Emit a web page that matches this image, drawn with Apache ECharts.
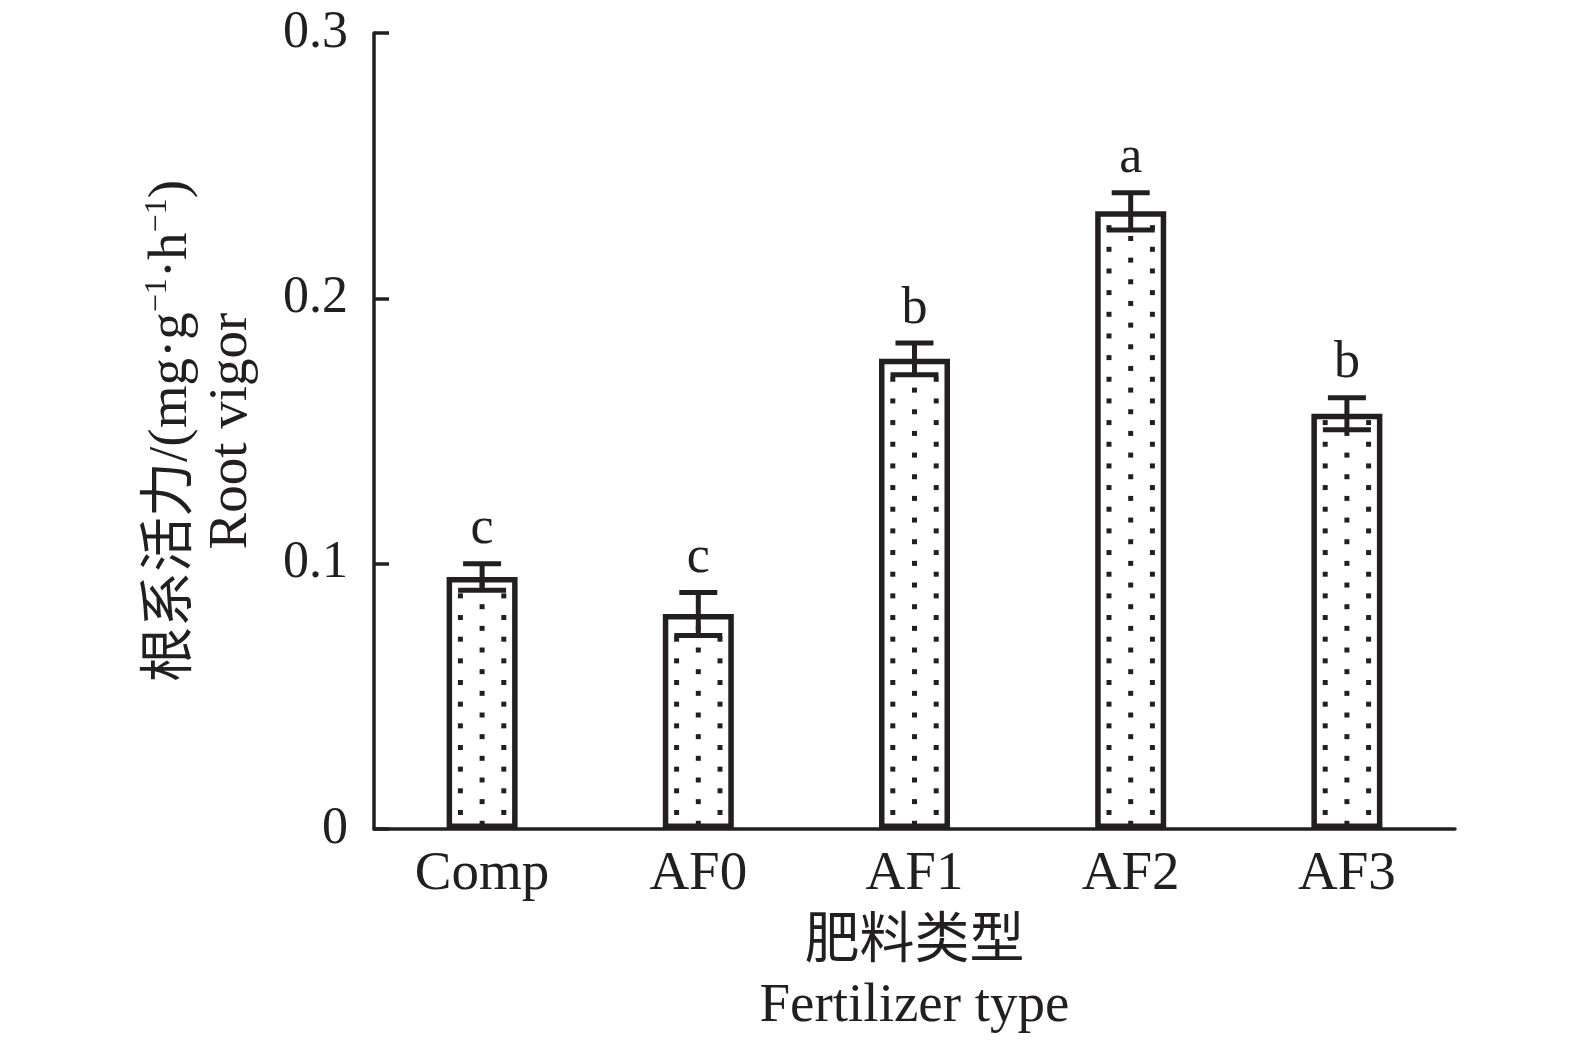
<!DOCTYPE html>
<html>
<head>
<meta charset="utf-8">
<script src="https://cdn.jsdelivr.net/npm/echarts@6/dist/echarts.min.js"></script>
<style>
html,body{margin:0;padding:0;background:#fff;}
#chart{width:1575px;height:1041px;}
</style>
</head>
<body>
<div id="chart"></div>
<script>
// ---- data ----
const categories = ['Comp', 'AF0', 'AF1', 'AF2', 'AF3'];
const rootVigor = [0.095, 0.081, 0.1772, 0.2328, 0.1565];
const rootVigorErr = [0.005, 0.0081, 0.006, 0.007, 0.006];
const sigLetters = ['c', 'c', 'b', 'a', 'b'];
const yMin = 0, yMax = 0.3, yStep = 0.1;

// ---- style ----
const INK = '#231f20';
const SERIF = '"Liberation Serif", "Times New Roman", "Noto Sans CJK SC", serif';
const BORDER = 5.5;

const chart = echarts.init(document.getElementById('chart'), null, {renderer: 'canvas'});

const barData = rootVigor.map((v, i) => [i, v]);
const errData = rootVigor.map((v, i) => [i, v, rootVigorErr[i]]);

const option = {
  animation: false,
  backgroundColor: '#fff',
  grid: {left: 374, right: 120, top: 33, bottom: 212, containLabel: false, outerBoundsMode: 'none'},
  xAxis: {
    type: 'category',
    data: categories,
    axisLine: {lineStyle: {color: INK, width: 3.5}},
    axisTick: {show: false},
    axisLabel: {color: INK, fontFamily: SERIF, fontSize: 55, margin: 18},
    name: '肥料类型\nFertilizer type',
    nameLocation: 'middle',
    nameGap: 82,
    nameTextStyle: {color: INK, fontFamily: SERIF, fontSize: 55, lineHeight: 64}
  },
  yAxis: {
    type: 'value',
    min: yMin, max: yMax, interval: yStep,
    axisLine: {show: true, lineStyle: {color: INK, width: 3.5}},
    axisTick: {show: true, inside: true, length: 15, lineStyle: {color: INK, width: 3.5}},
    splitLine: {show: false},
    axisLabel: {color: INK, fontFamily: SERIF, fontSize: 52, margin: 26},
    name: '{a|根系活力/(mg·g}{s|−1}{a|·h}{s|−1}{a|)}\n{a|Root vigor}',
    nameLocation: 'middle',
    nameGap: 112,
    nameTextStyle: {
      color: INK,
      rich: {
        a: {fontFamily: SERIF, fontSize: 55, lineHeight: 60, color: INK},
        s: {fontFamily: SERIF, fontSize: 32, lineHeight: 20, verticalAlign: 'top', color: INK}
      }
    }
  },
  series: [
    {
      type: 'bar',
      data: barData,
      barWidth: 71,
      itemStyle: {color: '#fff', borderColor: INK, borderWidth: BORDER},
      z: 2
    },
    {
      type: 'custom',
      data: barData,
      encode: {x: 0, y: 1},
      z: 3,
      renderItem: function (params, api) {
        const i = api.value(0), v = api.value(1);
        const base = api.coord([i, 0]);
        const top = api.coord([i, v]);
        const cx = base[0];
        const innerTop = top[1] + BORDER;
        const children = [];
        for (let m = 0; m < 200; m++) {
          const y = base[1] - 5.7 - m * 10.83;
          if (y - 2.5 < innerTop) break;
          const xs = (m % 2 === 0) ? [cx] : [cx - 21.7, cx + 21.7];
          xs.forEach(function (x) {
            children.push({type: 'rect', shape: {x: x - 2.5, y: y - 2.5, width: 5, height: 5}, style: {fill: INK}});
          });
        }
        return {type: 'group', children: children};
      }
    },
    {
      type: 'custom',
      data: errData,
      encode: {x: 0, y: 1},
      z: 4,
      renderItem: function (params, api) {
        const i = api.value(0), v = api.value(1), e = api.value(2);
        const hi = api.coord([i, v + e]);
        const lo = api.coord([i, v - e]);
        const cx = hi[0];
        const ls = {stroke: INK, lineWidth: 5};
        return {
          type: 'group',
          children: [
            {type: 'line', shape: {x1: cx, y1: hi[1], x2: cx, y2: lo[1]}, style: ls},
            {type: 'line', shape: {x1: cx - 19, y1: hi[1], x2: cx + 19, y2: hi[1]}, style: ls},
            {type: 'line', shape: {x1: cx - 24, y1: lo[1], x2: cx + 24, y2: lo[1]}, style: ls},
            {type: 'text', style: {
              text: sigLetters[params.dataIndex], x: cx, y: hi[1] - 34,
              align: 'center', verticalAlign: 'middle',
              fontFamily: SERIF, fontSize: 52, fill: INK
            }}
          ]
        };
      }
    }
  ]
};

chart.setOption(option);
</script>
</body>
</html>
